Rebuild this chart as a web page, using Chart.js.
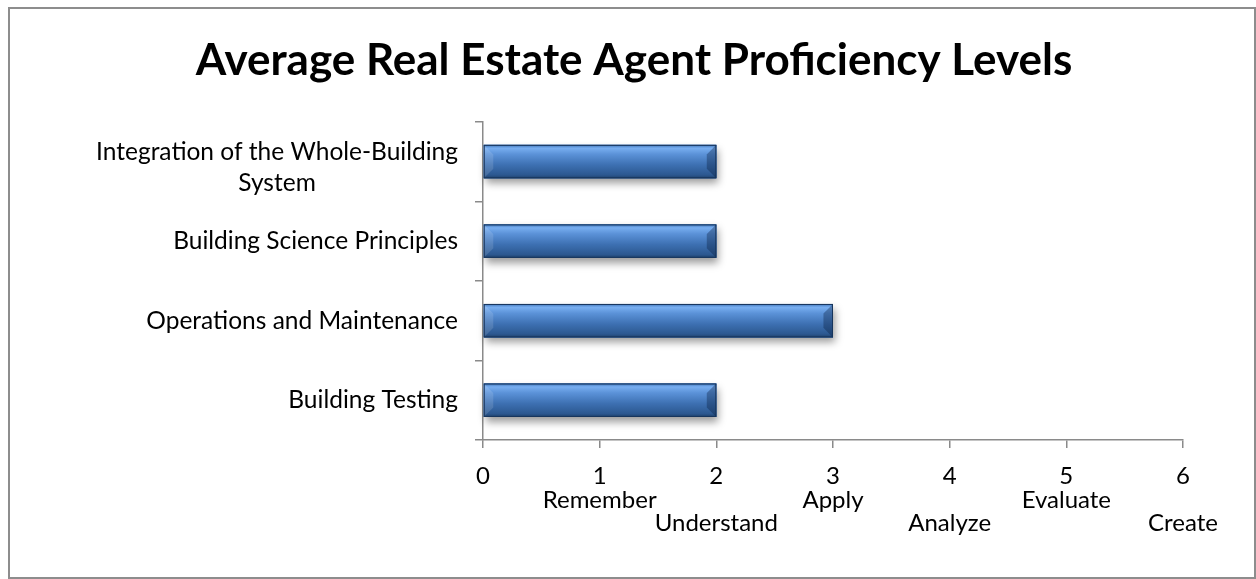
<!DOCTYPE html>
<html>
<head>
<meta charset="utf-8">
<script src="https://cdn.jsdelivr.net/npm/chart.js@4.4.1/dist/chart.umd.min.js"></script>
<style>
  html, body { margin: 0; padding: 0; background: #fff; }
  #wrap { position: relative; width: 1256px; height: 579px; }
  #frame { position: absolute; left: 8px; top: 7px; width: 1248px; height: 572px; border: 2px solid #8d8d8d; box-sizing: border-box; pointer-events: none; }
</style>
</head>
<body>
<div id="wrap">
  <canvas id="chart" width="1256" height="579"></canvas>
  <div id="frame"></div>
</div>
<script>
// sheet order (Excel draws the first row at the bottom)
const categories = ['Building Testing', 'Operations and Maintenance', 'Building Science Principles', ['Integration of the Whole-Building', 'System']]
const proficiency = [2, 3, 2, 2]
const levelNames = ['', 'Remember', 'Understand', 'Apply', 'Analyze', 'Evaluate', 'Create']
const axisMin = 0
const axisMax = 6

const FONT = 'Lato, "Open Sans", sans-serif'
const GREY = '#8a8a8a'

const poly = (ctx, pts) => {
  ctx.beginPath()
  pts.forEach(([px, py], i) => i ? ctx.lineTo(px, py) : ctx.moveTo(px, py))
  ctx.closePath()
  ctx.fill()
}

// bevelled, shaded bars like the Office chart style
const bevelBars = {
  id: 'bevelBars',
  beforeDatasetsDraw (chart) {
    const ctx = chart.ctx
    ctx.save()
    ctx.shadowColor = 'rgba(0,0,0,0.4)'
    ctx.shadowBlur = 8
    ctx.shadowOffsetX = 2
    ctx.shadowOffsetY = 5
    ctx.fillStyle = '#2f5d98'
    chart.getDatasetMeta(0).data.forEach(bar => {
      const { x, y, base, height } = bar.getProps(['x', 'y', 'base', 'height'], true)
      ctx.fillRect(base, y - height / 2, x - base, height)
    })
    ctx.restore()
  },
  afterDatasetsDraw (chart) {
    const ctx = chart.ctx
    ctx.save()
    chart.getDatasetMeta(0).data.forEach(bar => {
      const { x, y, base, height } = bar.getProps(['x', 'y', 'base', 'height'], true)
      const l = base
      const r = x
      const t = y - height / 2
      const b = y + height / 2
      const e = Math.min(10, height / 3.5)
      const g = ctx.createLinearGradient(0, t, 0, b)
      g.addColorStop(0, '#3f74b8')
      g.addColorStop(0.1, '#78aef0')
      g.addColorStop(0.28, '#5b92d8')
      g.addColorStop(0.6, '#3d70b2')
      g.addColorStop(0.9, '#2c5890')
      g.addColorStop(1, '#1f416c')
      ctx.fillStyle = g
      ctx.fillRect(l, t, r - l, b - t)
      ctx.fillStyle = 'rgba(255,255,255,0.13)'
      poly(ctx, [[l, t], [l + e, t + e], [l + e, b - e], [l, b]])
      ctx.fillStyle = 'rgba(10,30,60,0.35)'
      poly(ctx, [[r, t], [r - e, t + e], [r - e, b - e], [r, b]])
      ctx.strokeStyle = '#17355c'
      ctx.lineWidth = 1
      ctx.strokeRect(l + 0.5, t + 0.5, r - l - 1, b - t - 1)
    })
    ctx.restore()
  }
}

// category labels: right aligned block, wrapped lines centred inside it
const yLabels = {
  id: 'yLabels',
  afterDraw (chart) {
    const scale = chart.scales.y
    const ctx = chart.ctx
    const right = scale.right - 25
    ctx.save()
    ctx.font = `24.5px ${FONT}`
    ctx.fillStyle = '#000'
    ctx.textBaseline = 'middle'
    ctx.textAlign = 'center'
    categories.forEach((label, i) => {
      const lines = [].concat(label)
      const w = Math.max(...lines.map(s => ctx.measureText(s).width))
      const cy = scale.getPixelForValue(i) + (lines.length - 1) * 6
      lines.forEach((s, j) => ctx.fillText(s, right - w / 2, cy + (j - (lines.length - 1) / 2) * 31))
    })
    ctx.restore()
  }
}

const ctx = document.getElementById('chart')
const chart = new Chart(ctx, {
  type: 'bar',
  data: {
    labels: categories,
    datasets: [{
      data: proficiency,
      backgroundColor: '#3c6fb0',
      borderWidth: 0,
      barPercentage: 0.42,
      categoryPercentage: 1
    }]
  },
  options: {
    indexAxis: 'y',
    responsive: false,
    animation: false,
    layout: { padding: { left: 85, right: 73, top: 0, bottom: 0 } },
    plugins: {
      legend: { display: false },
      tooltip: { enabled: false },
      title: {
        display: true,
        text: 'Average Real Estate Agent Proficiency Levels',
        color: '#000',
        font: { family: FONT, size: 44, weight: 'bold', lineHeight: 1.2 },
        padding: { top: 34, bottom: 35 }
      }
    },
    scales: {
      y: {
        type: 'category',
        reverse: true,
        ticks: { display: false },
        grid: { drawOnChartArea: false, tickLength: 8, color: GREY, lineWidth: 1.5, offset: true },
        border: { color: GREY, width: 1.5 },
        afterFit: (s) => { s.width = 483 - 85 }
      },
      x: {
        type: 'linear',
        min: axisMin,
        max: axisMax,
        ticks: {
          stepSize: 1,
          autoSkip: false,
          maxRotation: 0,
          color: '#000',
          padding: 17,
          font: { family: FONT, size: 24, lineHeight: 0.97 },
          callback: (v) => {
            const name = levelNames[v]
            if (!name) return String(v)
            return v % 2 ? [String(v), name] : [String(v), '', name]
          }
        },
        grid: { drawOnChartArea: false, tickLength: 8, color: GREY, lineWidth: 1.5 },
        border: { color: GREY, width: 1.5 },
        afterFit: (s) => { s.height = 139 }
      }
    }
  },
  plugins: [bevelBars, yLabels]
})
</script>
</body>
</html>
